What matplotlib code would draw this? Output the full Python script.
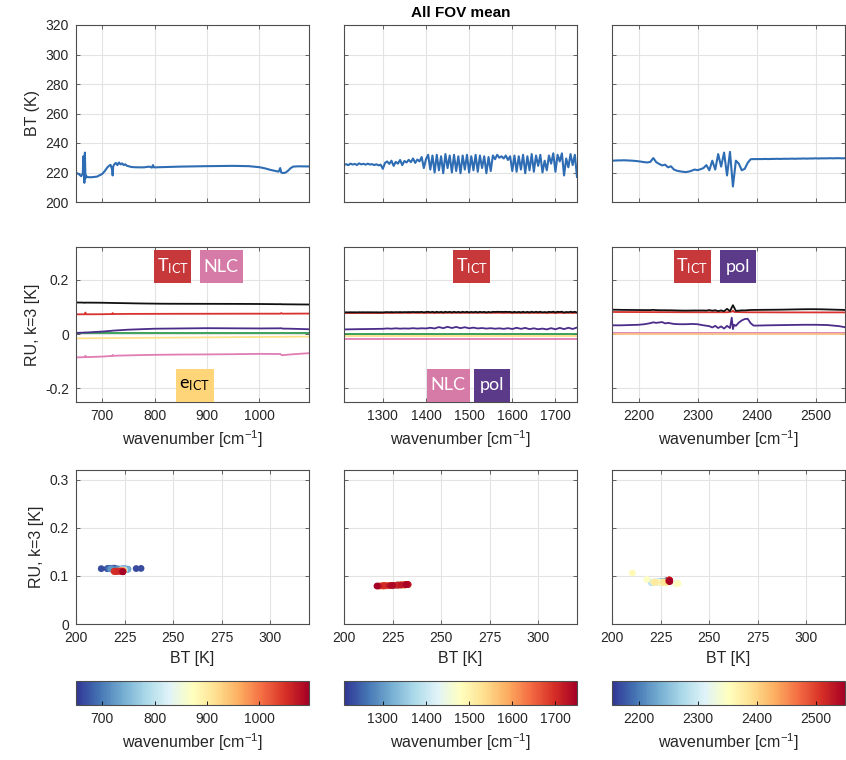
import numpy as np
import matplotlib
matplotlib.use('Agg')
import matplotlib.pyplot as plt
from matplotlib.patches import Rectangle
from matplotlib.cm import ScalarMappable
from matplotlib.colors import Normalize

plt.rcParams['font.family'] = ['Liberation Sans', 'DejaVu Sans']
plt.rcParams['mathtext.fontset'] = 'custom'
plt.rcParams['mathtext.rm'] = 'Liberation Sans'
plt.rcParams['mathtext.it'] = 'Liberation Sans:italic'
plt.rcParams['mathtext.bf'] = 'Liberation Sans:bold'
plt.rcParams['mathtext.default'] = 'regular'

# ---------------- data ----------------
band_lims = [(650, 1095), (1210, 1750), (2155, 2550)]
band_ticks = [[700, 800, 900, 1000], [1300, 1400, 1500, 1600, 1700], [2200, 2300, 2400, 2500]]

bt_ticks = [200, 220, 240, 260, 280, 300, 320]
ru_ticks = [-0.2, 0, 0.2]
ru_ticklabels = ['-0.2', '0', '0.2']
sc_xticks = [200, 225, 250, 275, 300]
sc_yticks = [0, 0.1, 0.2, 0.3]
sc_yticklabels = ['0', '0.1', '0.2', '0.3']

# LW band: brightness temperature and total RU (k=3)
lw_wn = [650, 655, 660, 663, 664, 666, 667, 668, 669, 671,
         675, 680, 690, 700, 705, 710, 713, 716, 719, 720,
         721, 723, 726, 729, 732, 735, 738, 741, 744, 747,
         750, 755, 760, 770, 780, 790, 795, 797, 799, 802,
         810, 830, 850, 900, 950, 980, 1000, 1010, 1020, 1030,
         1037, 1040, 1042, 1045, 1050, 1055, 1060, 1065, 1075, 1095]
lw_bt = [219.8, 219.0, 217.5, 219.5, 231.0, 213.0, 233.5, 216.0, 218.0, 217.0,
         216.8, 216.8, 217.2, 219.0, 221.0, 223.5, 224.5, 225.2, 222.0, 218.0,
         224.0, 225.5, 226.5, 225.0, 226.8, 225.5, 226.2, 225.0, 225.6, 224.6,
         224.3, 223.8, 223.6, 223.5, 223.5, 224.0, 223.3, 225.0, 223.5, 223.5,
         223.6, 223.8, 224.0, 224.3, 224.5, 224.3, 223.6, 222.9, 221.9, 221.1,
         220.6, 223.0, 220.0, 219.6, 219.9, 221.2, 223.0, 224.0, 224.2, 224.1]
lw_ru = [0.1160, 0.1158, 0.1157, 0.1156, 0.1152, 0.1150, 0.1155, 0.1150, 0.1155, 0.1155,
         0.1154, 0.1153, 0.1152, 0.1150, 0.1148, 0.1146, 0.1145, 0.1144, 0.1143, 0.1142,
         0.1142, 0.1141, 0.1140, 0.1139, 0.1138, 0.1137, 0.1136, 0.1135, 0.1134, 0.1133,
         0.1132, 0.1130, 0.1128, 0.1125, 0.1122, 0.1120, 0.1119, 0.1119, 0.1118, 0.1117,
         0.1115, 0.1113, 0.1112, 0.1110, 0.1108, 0.1106, 0.1104, 0.1102, 0.1100, 0.1098,
         0.1096, 0.1100, 0.1095, 0.1094, 0.1093, 0.1092, 0.1091, 0.1090, 0.1088, 0.1085]

# LW components
lw_cwn = [650, 667, 668, 669, 700, 719, 720, 721, 750, 800,
          850, 900, 950, 1000, 1040, 1042, 1044, 1060, 1095]
lw_tict = [0.0725, 0.0725, 0.0790, 0.0725, 0.0728, 0.0735, 0.0770, 0.0735, 0.0740, 0.0742,
           0.0744, 0.0745, 0.0747, 0.0748, 0.0748, 0.0770, 0.0748, 0.0750, 0.0752]
lw_pol = [0.0040, 0.0055, 0.0060, 0.0055, 0.0090, 0.0120, 0.0125, 0.0125, 0.0160, 0.0195,
          0.0205, 0.0215, 0.0210, 0.0205, 0.0210, 0.0215, 0.0200, 0.0195, 0.0175]
lw_nlc = [-0.0860, -0.0850, -0.0800, -0.0850, -0.0830, -0.0805, -0.0770, -0.0800, -0.0785, -0.0765,
          -0.0755, -0.0750, -0.0742, -0.0730, -0.0735, -0.0765, -0.0780, -0.0750, -0.0705]
lw_ewn = [650, 1095]
lw_eict = [-0.0160, -0.0095]
lw_other = [0.0022, 0.0022]

# MW band (every 5 cm-1 from 1210 to 1750)
mw_wn = np.arange(1210, 1751, 5)
mw_bt = [225.2, 225.6, 225.0, 226.0, 225.4, 225.8, 225.1, 226.2, 225.5, 225.9,
         225.3, 226.0, 225.4, 225.7, 225.0, 225.6, 224.8, 225.3, 222.5,
         226.5, 227.5, 225.8, 228.0, 224.5, 227.2, 226.0, 228.5, 225.0, 227.8,
         226.8, 228.6, 227.0, 229.5, 226.5, 228.8, 227.5, 230.5, 223.0, 229.0,
         232.0, 222.0, 231.5, 220.0, 232.0, 221.5, 231.0, 219.5, 232.5, 223.0,
         231.5, 220.0, 232.0, 221.0, 231.0, 219.5, 231.5, 222.0, 232.0, 220.0,
         231.0, 221.5, 232.0, 220.5, 231.5, 223.0, 231.0, 219.5, 230.5, 221.0,
         231.5, 229.0, 232.0, 230.0, 231.0, 229.5, 231.5, 228.5, 231.0, 221.0,
         231.5, 220.5, 231.0, 222.0, 232.0, 219.5, 231.0, 221.5, 232.5, 220.5,
         231.5, 224.5, 232.0, 220.0, 228.0, 221.5, 231.5, 226.0, 233.0, 220.5,
         232.0, 227.5, 233.0, 218.0, 229.5, 223.5, 232.5, 225.0, 232.0, 217.0]
mw_ru = [0.0798, 0.0800, 0.0797, 0.0801, 0.0799, 0.0800, 0.0797, 0.0802, 0.0799, 0.0801,
         0.0798, 0.0801, 0.0799, 0.0800, 0.0797, 0.0800, 0.0796, 0.0798, 0.0794,
         0.0803, 0.0806, 0.0800, 0.0807, 0.0798, 0.0805, 0.0801, 0.0808, 0.0799, 0.0806,
         0.0803, 0.0808, 0.0804, 0.0811, 0.0803, 0.0809, 0.0805, 0.0814, 0.0796, 0.0810,
         0.0818, 0.0797, 0.0817, 0.0794, 0.0818, 0.0796, 0.0815, 0.0793, 0.0819, 0.0798,
         0.0817, 0.0794, 0.0818, 0.0795, 0.0815, 0.0793, 0.0817, 0.0797, 0.0818, 0.0794,
         0.0815, 0.0796, 0.0818, 0.0795, 0.0817, 0.0798, 0.0815, 0.0793, 0.0814, 0.0795,
         0.0817, 0.0811, 0.0818, 0.0813, 0.0815, 0.0812, 0.0817, 0.0810, 0.0815, 0.0795,
         0.0817, 0.0795, 0.0815, 0.0797, 0.0818, 0.0793, 0.0815, 0.0796, 0.0820, 0.0795,
         0.0817, 0.0801, 0.0818, 0.0794, 0.0809, 0.0796, 0.0817, 0.0804, 0.0821, 0.0795,
         0.0818, 0.0808, 0.0821, 0.0790, 0.0812, 0.0799, 0.0820, 0.0802, 0.0818, 0.0789]

# MW components (every 10 cm-1)
mw_cwn = np.arange(1210, 1751, 10)
mw_tict = [0.0770, 0.0772, 0.0769, 0.0771, 0.0770, 0.0772, 0.0770, 0.0771, 0.0769, 0.0771,
           0.0778, 0.0772, 0.0780, 0.0774, 0.0781, 0.0773, 0.0782, 0.0775, 0.0781, 0.0774,
           0.0782, 0.0775, 0.0781, 0.0776, 0.0782, 0.0778, 0.0782, 0.0779, 0.0783, 0.0779,
           0.0782, 0.0780, 0.0783, 0.0779, 0.0782, 0.0780, 0.0783, 0.0776, 0.0782, 0.0775,
           0.0781, 0.0774, 0.0782, 0.0775, 0.0781, 0.0774, 0.0782, 0.0775, 0.0781, 0.0774,
           0.0782, 0.0775, 0.0781, 0.0774, 0.0780]
mw_pol = [0.0170, 0.0172, 0.0175, 0.0178, 0.0180, 0.0182, 0.0185, 0.0187, 0.0190, 0.0192,
          0.0205, 0.0195, 0.0210, 0.0198, 0.0205, 0.0200, 0.0215, 0.0200, 0.0212, 0.0205,
          0.0230, 0.0205, 0.0255, 0.0215, 0.0265, 0.0220, 0.0260, 0.0215, 0.0250, 0.0210,
          0.0235, 0.0205, 0.0220, 0.0200, 0.0215, 0.0195, 0.0210, 0.0190, 0.0215, 0.0185,
          0.0230, 0.0190, 0.0225, 0.0180, 0.0210, 0.0175, 0.0200, 0.0170, 0.0215, 0.0175,
          0.0225, 0.0180, 0.0230, 0.0185, 0.0240]
mw_ewn = [1210, 1750]
mw_other = [0.0012, 0.0012]
mw_eict = [-0.0065, -0.0065]
mw_nlc = [-0.0165, -0.0165]

# SW band (every 5 cm-1 from 2155 to 2550)
sw_wn = np.arange(2155, 2551, 5)
sw_bt = [228.0, 228.1, 228.2, 228.2, 228.3, 228.2, 228.1, 228.0, 227.8, 227.6,
         227.3, 227.0, 226.8, 227.2, 229.8, 227.0, 225.8, 224.8, 225.3, 223.5,
         224.2, 222.0, 221.2, 220.8, 220.5, 220.3, 220.6, 221.2, 222.0, 221.6,
         222.2, 223.0, 225.0, 221.5, 228.0, 222.0, 232.5, 224.0, 233.5, 218.0,
         234.0, 210.5, 228.0, 226.0, 221.5, 222.5, 226.5, 229.0, 229.1, 229.1,
         229.1, 229.1, 229.2, 229.1, 229.2, 229.2, 229.3, 229.2, 229.3, 229.3,
         229.3, 229.4, 229.3, 229.4, 229.4, 229.5, 229.4, 229.5, 229.5, 229.6,
         229.5, 229.6, 229.6, 229.6, 229.7, 229.6, 229.7, 229.7, 229.6, 229.7]
sw_ru = [0.0895, 0.0893, 0.0891, 0.0889, 0.0887, 0.0886, 0.0885, 0.0884, 0.0883, 0.0882,
         0.0881, 0.0880, 0.0879, 0.0880, 0.0888, 0.0879, 0.0876, 0.0874, 0.0875, 0.0872,
         0.0873, 0.0869, 0.0866, 0.0864, 0.0862, 0.0861, 0.0862, 0.0864, 0.0866, 0.0865,
         0.0866, 0.0866, 0.0862, 0.0880, 0.0858, 0.0875, 0.0842, 0.0868, 0.0838, 0.0925,
         0.0840, 0.1060, 0.0852, 0.0858, 0.0870, 0.0868, 0.0876, 0.0884, 0.0886, 0.0887,
         0.0888, 0.0889, 0.0890, 0.0891, 0.0892, 0.0893, 0.0894, 0.0895, 0.0897, 0.0899,
         0.0901, 0.0903, 0.0905, 0.0907, 0.0909, 0.0911, 0.0912, 0.0913, 0.0913, 0.0912,
         0.0911, 0.0909, 0.0906, 0.0903, 0.0900, 0.0897, 0.0894, 0.0891, 0.0888, 0.0885]

# SW components
sw_twn = [2155, 2300, 2350, 2358, 2360, 2362, 2380, 2450, 2550]
sw_tict = [0.0810, 0.0800, 0.0800, 0.0820, 0.0860, 0.0810, 0.0800, 0.0795, 0.0795]
sw_pwn = [2155, 2170, 2185, 2200, 2210, 2220, 2225, 2230, 2240, 2245,
          2250, 2260, 2270, 2280, 2290, 2300, 2310, 2320, 2325, 2330,
          2335, 2340, 2345, 2350, 2355, 2358, 2360, 2362, 2365, 2370,
          2375, 2380, 2385, 2390, 2395, 2400, 2420, 2450, 2480, 2500,
          2520, 2540, 2550]
sw_pol = [0.0320, 0.0320, 0.0330, 0.0340, 0.0360, 0.0400, 0.0430, 0.0410, 0.0440, 0.0390,
          0.0410, 0.0370, 0.0360, 0.0360, 0.0370, 0.0360, 0.0320, 0.0290, 0.0240, 0.0300,
          0.0220, 0.0280, 0.0200, 0.0300, 0.0220, 0.0600, 0.0180, 0.0340, 0.0300, 0.0420,
          0.0500, 0.0550, 0.0560, 0.0400, 0.0310, 0.0310, 0.0320, 0.0330, 0.0340, 0.0340,
          0.0330, 0.0290, 0.0250]
sw_ewn = [2155, 2550]
sw_nlc = [0.0025, 0.0025]
sw_eict = [-0.0010, -0.0010]

bands = [
    dict(wn=lw_wn, bt=lw_bt, ru=lw_ru,
         comps=[(lw_cwn, lw_nlc, 'nlc'), (lw_ewn, lw_eict, 'eict'), (lw_ewn, lw_other, 'other'),
                (lw_cwn, lw_pol, 'pol'), (lw_cwn, lw_tict, 'tict')],
         tags=[('T$_{ICT}$', 'tict', 0.415, 0.874, 37), ('NLC', 'nlc', 0.623, 0.874, 43),
               ('e$_{ICT}$', 'eict', 0.510, 0.108, 38)]),
    dict(wn=mw_wn, bt=mw_bt, ru=mw_ru,
         comps=[(mw_ewn, mw_nlc, 'nlc'), (mw_ewn, mw_eict, 'eict'), (mw_ewn, mw_other, 'other'),
                (mw_cwn, mw_pol, 'pol'), (mw_cwn, mw_tict, 'tict')],
         tags=[('T$_{ICT}$', 'tict', 0.549, 0.874, 37), ('NLC', 'nlc', 0.447, 0.108, 43),
               ('pol', 'pol', 0.637, 0.108, 36)]),
    dict(wn=sw_wn, bt=sw_bt, ru=sw_ru,
         comps=[(sw_ewn, sw_nlc, 'nlc'), (sw_ewn, sw_eict, 'eict2'),
                (sw_pwn, sw_pol, 'pol'), (sw_twn, sw_tict, 'tict')],
         tags=[('T$_{ICT}$', 'tict', 0.345, 0.874, 37), ('pol', 'pol', 0.540, 0.874, 36)]),
]

line_colors = {'tict': '#D8322E', 'nlc': '#DF7DB4', 'eict': '#FEE08B', 'eict2': '#F9C584',
               'pol': '#4B2C89', 'other': '#2E9B4E'}
box_colors = {'tict': '#C7383A', 'nlc': '#D67BA7', 'pol': '#5C3A8A', 'eict': '#FFD57A'}
text_colors = {'tict': 'white', 'nlc': 'white', 'pol': 'white', 'eict': 'black'}

# ---------------- figure ----------------
W, H = 846, 760
fig = plt.figure(figsize=(W / 100, H / 100), dpi=100)

col_x = [76, 344, 612]
col_w = 233
rows = [(25, 202), (247, 402), (470, 624)]
cbar_row = (681, 705)


def px_axes(x0, y0, y1, w=col_w):
    return fig.add_axes([x0 / W, 1 - y1 / H, w / W, (y1 - y0) / H])


def style(ax):
    ax.grid(True, color='#E3E3E3', linewidth=0.8)
    ax.set_axisbelow(True)
    for s in ax.spines.values():
        s.set_color('#4D4D4D')
        s.set_linewidth(0.8)
    ax.tick_params(direction='in', length=3, width=0.6, color='#4D4D4D',
                   top=True, right=True, labelsize=10, labelcolor='#262626', pad=5)


for i, b in enumerate(bands):
    lo, hi = band_lims[i]

    # top: brightness temperature
    ax = px_axes(col_x[i], *rows[0])
    style(ax)
    ax.plot(b['wn'], b['bt'], color='#2E6DB4', linewidth=1.5)
    ax.set_xlim(lo, hi)
    ax.set_ylim(200, 320)
    ax.set_xticks(band_ticks[i])
    ax.set_yticks(bt_ticks)
    ax.tick_params(labelbottom=False)
    if i == 0:
        ax.set_ylabel('BT (K)', fontsize=11.5, color='#262626')
    else:
        ax.tick_params(labelleft=False)
    if i == 1:
        ax.set_title('All FOV mean', fontsize=11, fontweight='bold', pad=6)

    # middle: RU components
    ax = px_axes(col_x[i], *rows[1])
    style(ax)
    for cw, cv, key in b['comps']:
        ax.plot(cw, cv, color=line_colors[key], linewidth=1.3)
    ax.plot(b['wn'], b['ru'], color='#111111', linewidth=1.3)
    ax.set_xlim(lo, hi)
    ax.set_ylim(-0.25, 0.32)
    ax.set_xticks(band_ticks[i])
    ax.set_yticks(ru_ticks)
    ax.set_xlabel('wavenumber [cm$^{-1}$]', fontsize=11.5, color='#262626')
    if i == 0:
        ax.set_yticklabels(ru_ticklabels)
        ax.set_ylabel('RU, k=3 [K]', fontsize=11.5, color='#262626')
    else:
        ax.tick_params(labelleft=False)
    for label, key, cx, cy, wpx in b['tags']:
        fw = wpx / col_w
        fh = 33 / (rows[1][1] - rows[1][0])
        ax.add_patch(Rectangle((cx - fw / 2, cy - fh / 2), fw, fh, transform=ax.transAxes,
                               facecolor=box_colors[key], edgecolor='none', zorder=5))
        ax.text(cx, cy, label, transform=ax.transAxes, ha='center', va='center',
                fontsize=13, color=text_colors[key], family=['Lato', 'DejaVu Sans'], zorder=6)

    # bottom: RU vs BT scatter
    ax = px_axes(col_x[i], *rows[2])
    style(ax)
    ax.scatter(b['bt'], b['ru'], c=b['wn'], cmap='RdYlBu_r', vmin=lo, vmax=hi,
               s=24, edgecolors='none', zorder=3)
    ax.set_xlim(200, 320)
    ax.set_ylim(0, 0.32)
    ax.set_xticks(sc_xticks)
    ax.set_yticks(sc_yticks)
    ax.set_xlabel('BT [K]', fontsize=11.5, color='#262626')
    if i == 0:
        ax.set_yticklabels(sc_yticklabels)
        ax.set_ylabel('RU, k=3 [K]', fontsize=11.5, color='#262626')
    else:
        ax.tick_params(labelleft=False)

    # colorbar
    cax = px_axes(col_x[i], *cbar_row)
    sm = ScalarMappable(norm=Normalize(lo, hi), cmap='RdYlBu_r')
    cb = fig.colorbar(sm, cax=cax, orientation='horizontal')
    cb.set_ticks(band_ticks[i])
    cb.outline.set_edgecolor('#4D4D4D')
    cb.outline.set_linewidth(0.8)
    cax.tick_params(direction='in', length=3, width=0.6, labelsize=10,
                    labelcolor='#262626', pad=5)
    cb.set_label('wavenumber [cm$^{-1}$]', fontsize=11.5, color='#262626')

fig.savefig('out.png', dpi=100)
